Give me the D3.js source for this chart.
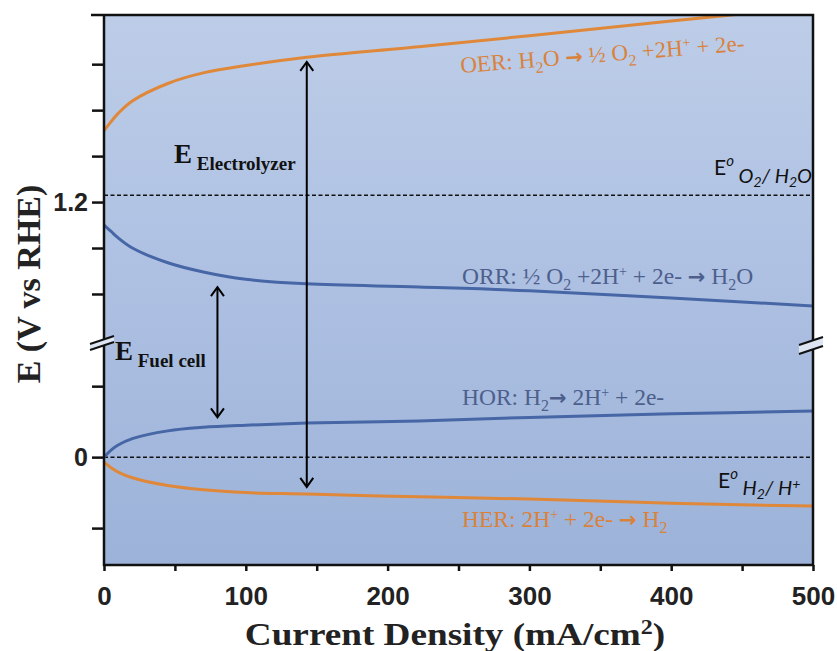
<!DOCTYPE html>
<html>
<head>
<meta charset="utf-8">
<title>Electrolyzer and fuel cell polarization</title>
<style>
body { margin: 0; background: #fff; }
</style>
</head>
<body>
<svg width="837" height="651"></svg>
<script src="https://d3js.org/d3.v7.min.js"></script>
<script>
// current density (mA/cm2) and electrode potentials (V vs RHE)
var current = [0, 5, 10, 20, 45, 70, 100, 143, 222, 300, 400, 500];
var oer = [1.355, 1.375, 1.393, 1.420, 1.458, 1.481, 1.497, 1.515, 1.538, 1.562, 1.594, 1.625];
var orr = [1.150, 1.136, 1.122, 1.100, 1.068, 1.048, 1.032, 1.022, 1.015, 1.007, 0.991, 0.974];
var hor = [0.000, 0.010, 0.017, 0.026, 0.037, 0.042, 0.045, 0.048, 0.051, 0.056, 0.061, 0.065];
var her = [-0.007, -0.015, -0.021, -0.029, -0.040, -0.046, -0.050, -0.052, -0.056, -0.059, -0.065, -0.069];

var xTicks = [0, 50, 100, 150, 200, 250, 300, 350, 400, 450, 500];
var yTicks = [-0.1, 0, 0.1, 1.0, 1.1, 1.2, 1.3, 1.4, 1.5];
var yTickLabels = { "0": "0", "1.2": "1.2" };

var standardPotentials = [1.215, 0];   // E°(O2/H2O), E°(H2/H+) as drawn
var arrowCurrent = [143, 80];           // E electrolyzer, E fuel cell
var arrowTop = [1.505, 1.015];
var arrowBottom = [-0.042, 0.056];

var svg = d3.select("svg");
var plotL = 104, plotR = 813, plotT = 15, plotB = 565, breakY = 345;

var x = d3.scaleLinear().domain([0, 500]).range([plotL, plotR]);
// broken axis: two linear pieces meeting at the break
var y = d3.scaleLinear()
    .domain([-0.152, 0.158, 0.889, 1.607])
    .range([plotB, breakY, breakY, plotT]);

var orange = "#e0883a", blue = "#4766a6";

var defs = svg.append("defs");
var grad = defs.append("linearGradient")
    .attr("id", "bg").attr("x1", 0).attr("y1", 0).attr("x2", 0).attr("y2", 1);
grad.append("stop").attr("offset", "0%").attr("stop-color", "#bdcde8");
grad.append("stop").attr("offset", "50%").attr("stop-color", "#adc0e2");
grad.append("stop").attr("offset", "100%").attr("stop-color", "#9cb2d8");

defs.append("clipPath").attr("id", "plot")
  .append("rect").attr("x", plotL).attr("y", plotT)
    .attr("width", plotR - plotL).attr("height", plotB - plotT);

svg.append("rect")
    .attr("x", plotL).attr("y", plotT)
    .attr("width", plotR - plotL).attr("height", plotB - plotT)
    .attr("fill", "url(#bg)");

// dashed standard potential lines
svg.selectAll(".std")
  .data(standardPotentials)
  .enter().append("line")
    .attr("class", "std")
    .attr("x1", plotL).attr("x2", plotR)
    .attr("y1", function(d) { return y(d); })
    .attr("y2", function(d) { return y(d); })
    .attr("stroke", "#111").attr("stroke-width", 1.5)
    .attr("stroke-dasharray", "4,2.5");

var line = d3.line()
    .x(function(d, i) { return x(current[i]); })
    .y(function(d) { return y(d); })
    .curve(d3.curveCatmullRom.alpha(0.5));

var curves = [[oer, orange], [orr, blue], [hor, blue], [her, orange]];
svg.append("g").attr("clip-path", "url(#plot)")
  .selectAll("path")
  .data(curves)
  .enter().append("path")
    .attr("d", function(d) { return line(d[0]); })
    .attr("fill", "none")
    .attr("stroke", function(d) { return d[1]; })
    .attr("stroke-width", 3);

// double arrows
var arrows = svg.append("g").attr("stroke", "#000").attr("stroke-width", 2).attr("fill", "none");
arrowCurrent.forEach(function(c, i) {
  var cx = x(c), y0 = y(arrowTop[i]), y1 = y(arrowBottom[i]);
  arrows.append("line").attr("x1", cx).attr("x2", cx).attr("y1", y0 + 1).attr("y2", y1 - 1);
  arrows.append("path").attr("d", "M" + (cx - 6.5) + "," + (y0 + 9) + "L" + cx + "," + y0 + "L" + (cx + 6.5) + "," + (y0 + 9));
  arrows.append("path").attr("d", "M" + (cx - 6.5) + "," + (y1 - 9) + "L" + cx + "," + y1 + "L" + (cx + 6.5) + "," + (y1 - 9));
});

// axes
var yAxis = svg.append("g")
    .attr("transform", "translate(" + plotL + ",0)")
    .call(d3.axisLeft(y).tickValues(yTicks).tickSize(12).tickPadding(4)
      .tickFormat(function(d) { return yTickLabels[String(d)] || ""; }));
yAxis.select(".domain").remove();
yAxis.selectAll("line").attr("stroke", "#111").attr("stroke-width", 2.5);
yAxis.selectAll("text")
    .attr("font-family", "Liberation Sans, Arial, sans-serif")
    .attr("font-weight", "bold").attr("font-size", 25).attr("fill", "#222");

var xAxis = svg.append("g")
    .attr("transform", "translate(0," + plotB + ")")
    .call(d3.axisBottom(x).tickValues(xTicks).tickSize(6).tickPadding(16)
      .tickFormat(function(d) { return d % 100 === 0 ? d : ""; }));
xAxis.select(".domain").remove();
xAxis.selectAll("line").attr("stroke", "#111").attr("stroke-width", 2.5);
xAxis.selectAll("text")
    .attr("font-family", "Liberation Sans, Arial, sans-serif")
    .attr("font-weight", "bold").attr("font-size", 26).attr("fill", "#222");

var frame = svg.append("g").attr("stroke", "#111").attr("stroke-width", 2.5).attr("fill", "none");
frame.append("path").attr("d",
    "M" + (plotL - 13) + "," + plotT + "H" + plotR + "V" + plotB + "H" + plotL + "V" + plotT);

// axis break marks
function axisBreak(cx, cy, gap) {
  var g = svg.append("g");
  g.append("path")
      .attr("d", "M" + (cx - 13) + "," + (cy + 4) + "L" + (cx + 11) + "," + (cy - 4) +
                 "L" + (cx + 11) + "," + (cy - 4 + gap) + "L" + (cx - 13) + "," + (cy + 4 + gap) + "Z")
      .attr("fill", "#dde5f2");
  g.selectAll("line").data([0, gap]).enter().append("line")
      .attr("x1", cx - 13).attr("x2", cx + 11)
      .attr("y1", function(d) { return cy + 4 + d; })
      .attr("y2", function(d) { return cy - 4 + d; })
      .attr("stroke", "#111").attr("stroke-width", 2);
}
axisBreak(plotL - 1, 340, 6);
axisBreak(plotR - 1, 341, 9);

// text with sub/superscripts: parts are [text, shift px, size, italic, family, weight]
function richText(px, py, parts, opts) {
  var t = svg.append("text")
      .attr("x", px).attr("y", py)
      .attr("font-family", opts.family)
      .attr("fill", opts.color);
  if (opts.rotate) t.attr("transform", "rotate(" + opts.rotate + "," + px + "," + py + ")");
  var shift = 0;
  parts.forEach(function(p) {
    var s = p[1] || 0;
    t.append("tspan")
        .attr("dy", s - shift)
        .attr("font-size", p[2] || opts.size)
        .attr("font-style", p[3] ? "italic" : null)
        .attr("font-family", p[4] || null)
        .attr("font-weight", p[5] || null)
        .text(p[0]);
    shift = s;
  });
  return t;
}

var serif = "Liberation Serif, Times New Roman, serif";
var arrowFont = "DejaVu Sans";
var arr = ["\u2192", 0, 21, false, arrowFont, "bold"];
richText(461, 73, [["OER: H"], ["2", 6, 16], ["O  "], arr, [" \u00bd O"], ["2", 6, 16], [" +2H"], ["+", -8, 14], [" + 2e-"]],
  { family: serif, size: 23, color: "#d9823c", rotate: -4.5 });
richText(462, 284, [["ORR: \u00bd O"], ["2", 6, 16], [" +2H"], ["+", -8, 14], [" + 2e- "], arr, [" H"], ["2", 6, 16], ["O"]],
  { family: serif, size: 23.5, color: "#4d5f8c" });
richText(462, 405, [["HOR: H"], ["2", 6, 16], arr, [" 2H"], ["+", -8, 14], [" + 2e-"]],
  { family: serif, size: 23.5, color: "#4d5f8c" });
richText(462, 527, [["HER: 2H"], ["+", -8, 14], [" + 2e- "], arr, [" H"], ["2", 6, 16]],
  { family: serif, size: 23.5, color: "#d9823c" });

var sans = "Lato, Open Sans, sans-serif";
richText(714, 175, [["E"], ["o", -9, 15, true], [" O", 8, 20, true], ["2", 12, 14, true], ["/ H", 8, 20, true], ["2", 12, 14, true], ["O", 8, 20, true]],
  { family: sans, size: 21, color: "#111" });
richText(718, 488, [["E"], ["o", -9, 15, true], [" H", 7, 20, true], ["2", 11, 14, true], ["/ H", 7, 20, true], ["+", 1, 14, true]],
  { family: sans, size: 21, color: "#111" });

// E electrolyzer / E fuel cell
var bold = { family: serif, color: "#111" };
richText(174, 163, [["E", 0, 27], [" Electrolyzer", 7, 19]], bold).attr("font-weight", "bold");
richText(115, 360, [["E", 0, 27], [" Fuel cell", 7, 19]], bold).attr("font-weight", "bold");

// axis titles
svg.append("text")
    .attr("transform", "translate(40,284) rotate(-90)")
    .attr("text-anchor", "middle")
    .attr("font-family", serif).attr("font-weight", "bold")
    .attr("font-size", 34).attr("fill", "#222")
    .text("E (V vs RHE)");

var xt = svg.append("text")
    .attr("transform", "translate(455,645) scale(1.2,1)")
    .attr("text-anchor", "middle")
    .attr("font-family", serif).attr("font-weight", "bold")
    .attr("font-size", 31).attr("fill", "#222");
xt.append("tspan").text("Current Density (mA/cm");
xt.append("tspan").attr("dy", -11).attr("font-size", 20).text("2");
xt.append("tspan").attr("dy", 11).text(")");
</script>
</body>
</html>
